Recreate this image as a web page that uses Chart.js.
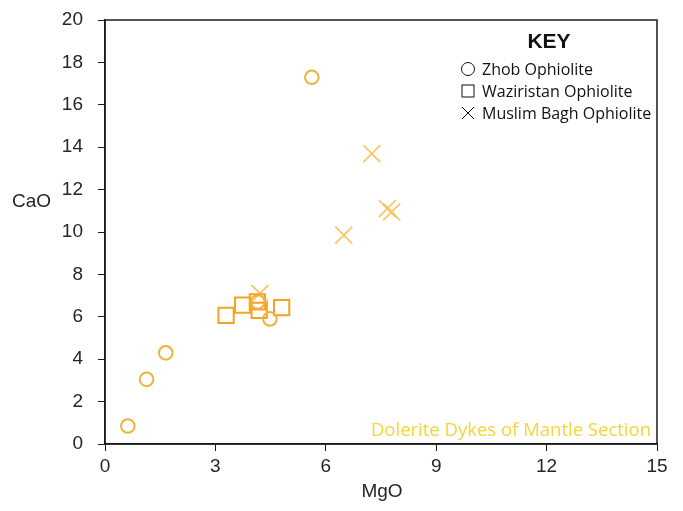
<!DOCTYPE html>
<html>
<head>
<meta charset="utf-8">
<script src="https://cdn.jsdelivr.net/npm/chart.js@4"></script>
<style>
  html, body { margin: 0; padding: 0; background: #fff; }
  #wrap { width: 683px; height: 511px; }
</style>
</head>
<body>
<div id="wrap"><canvas id="c" width="683" height="511"></canvas></div>
<script>
// MgO vs CaO (wt%) for dolerite dykes of the mantle section
const zhobMgO = [0.62, 1.13, 1.65, 4.15, 4.48, 5.62];
const zhobCaO = [0.85, 3.05, 4.30, 6.70, 5.90, 17.30];

const waziristanMgO = [3.29, 3.74, 4.14, 4.19, 4.80];
const waziristanCaO = [6.07, 6.55, 6.70, 6.30, 6.43];

const muslimBaghMgO = [4.21, 6.49, 7.25, 7.67, 7.79];
const muslimBaghCaO = [7.10, 9.85, 13.70, 11.10, 10.95];

const xTicks = [0, 3, 6, 9, 12, 15];
const yTicks = [0, 2, 4, 6, 8, 10, 12, 14, 16, 18, 20];

const seriesNames = ['Zhob Ophiolite', 'Waziristan Ophiolite', 'Muslim Bagh Ophiolite'];

const toPoints = (xs, ys) => xs.map((x, i) => ({ x: x, y: ys[i] }));

const axisFont = { family: '"Liberation Sans", Arial, sans-serif', size: 19 };

// Frame, axis titles, key and caption drawn on top of the chart
const decorations = {
  id: 'decorations',
  afterDraw(chart) {
    const ctx = chart.ctx;
    const a = chart.chartArea;
    ctx.save();
    ctx.strokeStyle = '#1a1a1a';
    ctx.lineWidth = 1.5;
    ctx.strokeRect(a.left, a.top, a.right - a.left, a.bottom - a.top);

    ctx.fillStyle = '#262626';
    ctx.font = '19px "Liberation Sans", Arial, sans-serif';
    ctx.textBaseline = 'middle';
    ctx.textAlign = 'left';
    ctx.fillText('CaO', 12, 202);
    ctx.textAlign = 'center';
    ctx.fillText('MgO', 382, 492);

    // key
    ctx.fillStyle = '#111';
    ctx.font = 'bold 21px "Liberation Sans", Arial, sans-serif';
    ctx.fillText('KEY', 549, 42);

    ctx.font = '16px "Open Sans", sans-serif';
    ctx.textAlign = 'left';
    ctx.strokeStyle = '#111';
    ctx.lineWidth = 1;
    const sx = 468, rows = [69, 91, 113];
    ctx.beginPath();
    ctx.arc(sx, rows[0], 6.5, 0, Math.PI * 2);
    ctx.stroke();
    ctx.strokeRect(sx - 6, rows[1] - 6, 12, 12);
    ctx.beginPath();
    ctx.moveTo(sx - 6, rows[2] - 6); ctx.lineTo(sx + 6, rows[2] + 6);
    ctx.moveTo(sx + 6, rows[2] - 6); ctx.lineTo(sx - 6, rows[2] + 6);
    ctx.stroke();
    seriesNames.forEach((n, i) => ctx.fillText(n, 482, rows[i] + 1));

    // caption
    ctx.fillStyle = '#F6D43A';
    ctx.font = '18.5px "Open Sans", sans-serif';
    ctx.textAlign = 'right';
    ctx.fillText('Dolerite Dykes of Mantle Section', 651, 431);
    ctx.restore();
  }
};

new Chart(document.getElementById('c'), {
  type: 'scatter',
  data: {
    datasets: [
      {
        label: seriesNames[0],
        data: toPoints(zhobMgO, zhobCaO),
        pointStyle: 'circle',
        pointRadius: 6.8,
        pointHoverRadius: 6.8,
        borderWidth: 2,
        borderColor: '#F0B23E',
        backgroundColor: 'rgba(0,0,0,0)'
      },
      {
        label: seriesNames[1],
        data: toPoints(waziristanMgO, waziristanCaO),
        pointStyle: 'rect',
        pointRadius: 10.8,
        pointHoverRadius: 10.8,
        borderWidth: 2,
        borderColor: '#F4A325',
        backgroundColor: 'rgba(0,0,0,0)'
      },
      {
        label: seriesNames[2],
        data: toPoints(muslimBaghMgO, muslimBaghCaO),
        pointStyle: 'crossRot',
        pointRadius: 12,
        pointHoverRadius: 12,
        borderWidth: 1.8,
        borderColor: 'rgba(244, 190, 80, 0.85)',
        backgroundColor: 'rgba(0,0,0,0)'
      }
    ]
  },
  options: {
    responsive: false,
    animation: false,
    layout: { padding: { left: 0, right: 26, top: 20, bottom: 0 } },
    plugins: { legend: { display: false }, tooltip: { enabled: false } },
    scales: {
      x: {
        type: 'linear',
        min: 0, max: 15,
        afterFit: s => { s.height = 67; s.paddingLeft = 0; s.paddingRight = 0; },
        afterBuildTicks: s => { s.ticks = xTicks.map(v => ({ value: v })); },
        grid: { display: true, drawOnChartArea: false, drawTicks: true, tickLength: 7, color: '#1a1a1a', lineWidth: 1 },
        border: { display: true, color: '#1a1a1a', width: 1.5 },
        ticks: { color: '#262626', font: axisFont, padding: 4, maxRotation: 0 }
      },
      y: {
        type: 'linear',
        min: 0, max: 20,
        afterFit: s => { s.width = 105; s.paddingTop = 0; s.paddingBottom = 0; },
        afterBuildTicks: s => { s.ticks = yTicks.map(v => ({ value: v })); },
        grid: { display: true, drawOnChartArea: false, drawTicks: true, tickLength: 7, color: '#1a1a1a', lineWidth: 1 },
        border: { display: true, color: '#1a1a1a', width: 1.5 },
        ticks: { color: '#262626', font: axisFont, padding: 15 }
      }
    }
  },
  plugins: [decorations]
});
</script>
</body>
</html>
